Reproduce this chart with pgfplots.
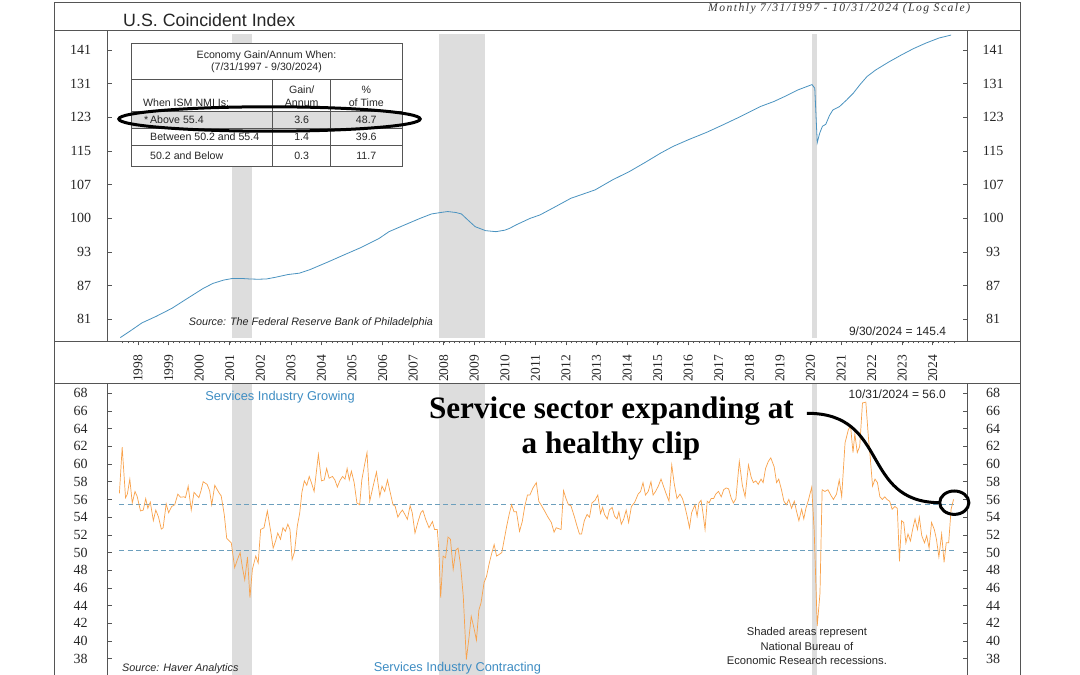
\documentclass[border=0pt]{standalone}
\usepackage{fontspec}
\setmainfont{Liberation Serif}
\setsansfont{Liberation Sans}
\newfontfamily\hdrfont[LetterSpace=13]{Liberation Serif Italic}
\usepackage{pgfplots}
\pgfplotsset{compat=1.18}
\definecolor{recg}{HTML}{DDDDDD}
\definecolor{lineblue}{HTML}{4A93C0}
\definecolor{ismorange}{HTML}{F9A24B}
\definecolor{dashblue}{HTML}{6C9FBD}
\definecolor{txtblue}{HTML}{3E8DC3}
\definecolor{framegray}{HTML}{555555}
\begin{document}
\begin{tikzpicture}[x=1pt,y=1pt]
\path[use as bounding box] (0,0) rectangle (1080,675);
\clip (0,0) rectangle (1080,675);
\fill[white] (0,0) rectangle (1080,675);
% ---------------- top panel ----------------
\begin{axis}[
  at={(107.5pt,334pt)}, anchor=south west,
  scale only axis, width=859.5pt, height=311pt,
  xmin=1997.1, xmax=2025.22,
  ymode=log, ymin=77.46, ymax=146.93,
  ytick={81,86.81,93.04,99.72,106.88,114.55,122.77,131.58,141.02},
  yticklabels={81,87,93,100,107,115,123,131,141},
  yminorticks=false,
  yticklabel style={anchor=east, font=\fontsize{14}{14}\selectfont, text=black!85},
  yticklabel shift=12.8pt,
  xtick={1998.1,1999.1,2000.1,2001.1,2002.1,2003.1,2004.1,2005.1,2006.1,2007.1,2008.1,2009.1,2010.1,2011.1,2012.1,2013.1,2014.1,2015.1,2016.1,2017.1,2018.1,2019.1,2020.1,2021.1,2022.1,2023.1,2024.1},
  xticklabels={1998,1999,2000,2001,2002,2003,2004,2005,2006,2007,2008,2009,2010,2011,2012,2013,2014,2015,2016,2017,2018,2019,2020,2021,2022,2023,2024},
  minor xtick={1997.6,1997.76667,...,2024.85},
  xtick pos=left, xtick align=outside,
  xticklabel style={rotate=90, anchor=east, font=\fontsize{13.5}{13.5}\selectfont, text=black!85},
  xticklabel shift=6pt,
  major tick length=4.5pt, minor tick length=2.5pt,
  every tick/.style={framegray, line width=0.6pt},
  axis line style={framegray, line width=0.8pt},
  /pgf/number format/assume math mode=true,
]
\addplot[fill=recg, draw=none] coordinates {(2001.18,78) (2001.18,145.7) (2001.84,145.7) (2001.84,78)} -- cycle;
\addplot[fill=recg, draw=none] coordinates {(2007.94,78) (2007.94,145.7) (2009.45,145.7) (2009.45,78)} -- cycle;
\addplot[fill=recg, draw=none] coordinates {(2020.16,78) (2020.16,145.7) (2020.31,145.7) (2020.31,78)} -- cycle;
\addplot[lineblue, line width=0.8pt] coordinates {
(1997.52,78.0) (1997.85,79.1) (1998.23,80.4) (1998.7,81.5) (1999.21,82.85) (1999.7,84.5) (2000.23,86.3) (2000.55,87.2) (2000.90,87.8) (2001.2,88.1) (2001.47,88.1) (2001.75,88.0) (2002.03,87.95) (2002.3,88.0) (2002.59,88.3) (2003.0,88.8) (2003.38,89.06) (2003.72,89.7) (2004.3,91.1) (2004.85,92.5) (2005.4,93.9) (2005.97,95.6) (2006.31,97.0) (2006.8,98.3) (2007.33,99.7) (2007.7,100.6) (2008.0,100.9) (2008.23,101.1) (2008.5,100.9) (2008.68,100.6) (2008.9,99.3) (2009.13,98.0) (2009.47,97.2) (2009.81,97.0) (2010.1,97.3) (2010.25,97.65) (2010.48,98.4) (2010.93,99.7) (2011.25,100.4) (2011.75,102.1) (2012.26,103.9) (2013.05,105.7) (2013.62,107.9) (2014.18,109.8) (2014.7,111.9) (2015.19,114.0) (2015.6,115.6) (2016.10,117.2) (2016.7,119.0) (2017.22,120.8) (2017.8,122.9) (2018.46,125.5) (2018.9,126.8) (2019.25,128.1) (2019.7,129.9) (2020.15,131.3) (2020.24,130.3) (2020.32,116.5) (2020.4,118.8) (2020.49,120.5) (2020.60,121.0) (2020.72,123.2) (2020.83,124.6) (2021.05,125.5) (2021.28,127.2) (2021.50,129.0) (2021.72,131.3) (2021.95,133.5) (2022.23,135.3) (2022.65,137.5) (2023.08,139.6) (2023.47,141.4) (2023.87,143.0) (2024.3,144.5) (2024.70,145.4)};
\end{axis}
\begin{axis}[
  at={(107.5pt,334pt)}, anchor=south west,
  scale only axis, width=859.5pt, height=311pt,
  xmin=1997.1, xmax=2025.22,
  ymode=log, ymin=77.46, ymax=146.93,
  hide x axis, axis y line*=right, y axis line style={draw=none},
  ytick={81,86.81,93.04,99.72,106.88,114.55,122.77,131.58,141.02},
  yticklabels={81,87,93,100,107,115,123,131,141},
  yminorticks=false, major tick length=0pt,
  yticklabel style={anchor=center, font=\fontsize{14}{14}\selectfont, text=black!85},
  yticklabel shift=26pt,
]
\end{axis}
% ---------------- bottom panel ----------------
\begin{axis}[
  at={(107.5pt,-20pt)}, anchor=south west,
  scale only axis, width=859.5pt, height=312pt,
  xmin=1997.1, xmax=2025.22,
  ymin=33.90, ymax=69.16,
  ytick={38,40,...,68},
  yticklabel style={anchor=east, font=\fontsize{14}{14}\selectfont, text=black!85},
  yticklabel shift=16.3pt,
  xtick=\empty,
  major tick length=4.5pt,
  every tick/.style={framegray, line width=0.6pt},
  axis line style={framegray, line width=0.8pt},
  /pgf/number format/assume math mode=true,
]
\addplot[fill=recg, draw=none] coordinates {(2001.18,33.9) (2001.18,69.16) (2001.84,69.16) (2001.84,33.9)} -- cycle;
\addplot[fill=recg, draw=none] coordinates {(2007.94,33.9) (2007.94,69.16) (2009.45,69.16) (2009.45,33.9)} -- cycle;
\addplot[fill=recg, draw=none] coordinates {(2020.16,33.9) (2020.16,69.16) (2020.31,69.16) (2020.31,33.9)} -- cycle;
\addplot[dashblue, line width=0.8pt, dash pattern=on 5pt off 3.3pt] coordinates {(1997.49,55.4) (2024.78,55.4)};
\addplot[dashblue, line width=0.8pt, dash pattern=on 5pt off 3.3pt] coordinates {(1997.49,50.2) (2024.78,50.2)};
\addplot[ismorange, line width=0.7pt] coordinates {
(1997.49,56.7) (1997.58,61.9) (1997.69,56.2) (1997.75,56.6) (1997.83,58.3) (1997.91,55.6) (1998.0,56.9) (1998.07,56.35) (1998.18,54.7) (1998.27,54.8) (1998.35,56.1) (1998.42,55.0) (1998.5,55.7) (1998.6,53.6) (1998.68,54.8) (1998.77,54.0) (1998.86,52.65) (1998.92,52.8) (1999.02,55.5) (1999.1,54.5) (1999.2,55.2) (1999.3,55.4) (1999.40,56.6) (1999.49,56.25) (1999.6,56.3) (1999.65,56.2) (1999.74,57.5) (1999.84,54.8) (1999.93,56.8) (2000.01,56.5) (2000.09,56.2) (2000.16,57.0) (2000.23,58.0) (2000.36,57.7) (2000.44,57.0) (2000.51,55.4) (2000.61,57.6) (2000.74,56.8) (2000.82,56.4) (2000.92,54.3) (2001.0,51.6) (2001.15,51.1) (2001.26,48.3) (2001.35,49.2) (2001.44,50.0) (2001.51,48.4) (2001.59,46.9) (2001.68,49.5) (2001.76,44.9) (2001.84,48.1) (2001.95,49.6) (2002.03,48.8) (2002.11,52.6) (2002.22,52.8) (2002.33,54.7) (2002.44,52.4) (2002.52,50.5) (2002.6,51.3) (2002.67,52.2) (2002.76,51.5) (2002.84,52.8) (2002.92,52.4) (2003.0,53.2) (2003.07,52.6) (2003.14,49.2) (2003.22,50.1) (2003.31,53.0) (2003.39,54.5) (2003.46,56.8) (2003.54,58.1) (2003.62,57.6) (2003.70,58.6) (2003.78,57.8) (2003.86,56.9) (2004.0,61.1) (2004.1,58.1) (2004.19,58.2) (2004.27,59.5) (2004.35,58.4) (2004.46,58.6) (2004.54,58.2) (2004.62,57.4) (2004.7,58.1) (2004.79,58.6) (2004.87,58.3) (2004.94,59.5) (2005.01,58.2) (2005.08,59.2) (2005.17,57.9) (2005.26,55.6) (2005.35,55.4) (2005.42,58.2) (2005.51,59.9) (2005.59,61.3) (2005.68,55.8) (2005.79,57.5) (2005.9,59.1) (2006.01,56.35) (2006.08,57.5) (2006.17,56.9) (2006.26,58.2) (2006.33,57.1) (2006.44,55.4) (2006.51,55.25) (2006.6,54.0) (2006.68,54.5) (2006.75,54.8) (2006.83,54.3) (2006.91,53.75) (2007.0,55.3) (2007.07,54.5) (2007.16,52.2) (2007.26,53.5) (2007.35,54.5) (2007.42,54.75) (2007.51,53.75) (2007.62,52.8) (2007.73,53.5) (2007.8,52.6) (2007.89,52.6) (2007.94,50.3) (2008.0,44.9) (2008.08,49.6) (2008.16,49.4) (2008.24,51.75) (2008.32,51.5) (2008.41,48.1) (2008.5,50.3) (2008.57,50.5) (2008.65,48.6) (2008.74,45.05) (2008.84,37.9) (2008.93,40.5) (2009.0,42.8) (2009.1,41.3) (2009.17,40.1) (2009.25,43.5) (2009.32,44.3) (2009.42,46.6) (2009.5,47.3) (2009.59,48.8) (2009.67,49.9) (2009.75,50.9) (2009.83,49.6) (2009.92,49.8) (2010.0,50.0) (2010.07,51.3) (2010.16,52.97) (2010.24,54.3) (2010.32,55.4) (2010.4,54.6) (2010.48,54.6) (2010.58,52.4) (2010.67,53.5) (2010.75,55.2) (2010.84,56.5) (2010.92,56.5) (2011.02,57.3) (2011.13,57.9) (2011.21,55.8) (2011.3,55.3) (2011.4,54.7) (2011.51,54.0) (2011.62,53.4) (2011.71,52.3) (2011.78,52.8) (2011.86,52.7) (2011.94,52.6) (2012.02,57.0) (2012.1,56.1) (2012.18,55.4) (2012.26,55.3) (2012.37,54.1) (2012.46,53.0) (2012.54,52.1) (2012.61,52.1) (2012.7,53.6) (2012.79,54.3) (2012.87,54.0) (2012.95,55.6) (2013.05,55.9) (2013.14,56.5) (2013.23,54.4) (2013.3,55.1) (2013.36,54.3) (2013.45,53.8) (2013.52,54.8) (2013.61,55.1) (2013.69,54.1) (2013.77,53.8) (2013.83,54.6) (2013.91,53.2) (2013.99,53.8) (2014.07,54.8) (2014.15,53.4) (2014.24,55.2) (2014.35,55.7) (2014.46,56.6) (2014.54,56.9) (2014.62,57.9) (2014.7,56.5) (2014.79,56.9) (2014.88,58.0) (2014.95,56.5) (2015.03,56.9) (2015.12,57.5) (2015.21,58.3) (2015.29,57.5) (2015.36,56.8) (2015.47,55.8) (2015.56,59.9) (2015.64,57.8) (2015.73,56.1) (2015.83,56.6) (2015.91,56.1) (2015.99,55.2) (2016.07,54.0) (2016.14,52.8) (2016.21,54.5) (2016.32,55.4) (2016.39,54.1) (2016.45,55.6) (2016.52,55.9) (2016.58,54.5) (2016.65,52.6) (2016.72,55.8) (2016.78,55.6) (2016.85,56.1) (2016.93,56.1) (2017.0,56.6) (2017.09,56.9) (2017.18,56.3) (2017.26,57.1) (2017.34,57.3) (2017.42,57.2) (2017.51,56.1) (2017.58,55.6) (2017.66,56.1) (2017.77,60.3) (2017.87,57.6) (2017.96,56.3) (2018.07,59.9) (2018.16,58.5) (2018.23,57.9) (2018.31,58.1) (2018.39,57.7) (2018.48,58.3) (2018.55,57.9) (2018.63,59.5) (2018.72,60.3) (2018.8,60.7) (2018.91,59.7) (2018.99,57.9) (2019.06,58.3) (2019.15,57.1) (2019.23,55.8) (2019.31,55.4) (2019.39,56.0) (2019.48,55.0) (2019.57,55.8) (2019.64,54.7) (2019.72,53.6) (2019.81,54.9) (2019.88,53.8) (2019.95,55.0) (2020.03,55.9) (2020.14,57.4) (2020.22,52.5) (2020.32,41.7) (2020.41,45.4) (2020.48,57.1) (2020.57,56.9) (2020.67,57.1) (2020.76,56.5) (2020.85,56.0) (2020.95,56.6) (2021.04,58.2) (2021.12,56.3) (2021.23,62.4) (2021.34,63.9) (2021.41,64.3) (2021.49,61.3) (2021.55,63.4) (2021.63,61.3) (2021.71,62.0) (2021.8,66.9) (2021.91,67.0) (2021.99,63.2) (2022.05,60.9) (2022.13,57.5) (2022.21,58.3) (2022.29,57.9) (2022.37,56.3) (2022.45,56.0) (2022.53,56.3) (2022.6,56.0) (2022.69,55.8) (2022.77,54.9) (2022.86,55.2) (2022.94,55.0) (2023.01,49.0) (2023.08,53.6) (2023.15,53.4) (2023.22,51.1) (2023.29,52.1) (2023.37,51.3) (2023.44,52.6) (2023.52,53.8) (2023.6,52.6) (2023.66,54.0) (2023.74,51.9) (2023.83,51.1) (2023.9,51.9) (2023.98,50.5) (2024.06,53.4) (2024.15,52.6) (2024.22,51.5) (2024.3,49.5) (2024.39,52.1) (2024.47,48.9) (2024.54,51.1) (2024.62,51.1) (2024.7,54.9) (2024.78,56.0)};
\end{axis}
\begin{axis}[
  at={(107.5pt,-20pt)}, anchor=south west,
  scale only axis, width=859.5pt, height=312pt,
  xmin=1997.1, xmax=2025.22,
  ymin=33.90, ymax=69.16,
  hide x axis, axis y line*=right, y axis line style={draw=none},
  ytick={38,40,...,68}, major tick length=0pt,
  yticklabel style={anchor=center, font=\fontsize{14}{14}\selectfont, text=black!85},
  yticklabel shift=26pt,
  /pgf/number format/assume math mode=true,
]
\end{axis}
% ---------------- frame ----------------
\draw[framegray, line width=0.8pt] (54,-5) -- (54,673) -- (1020.4,673) -- (1020.4,-5);
\draw[framegray, line width=0.8pt] (54,645) -- (1020.4,645);
\draw[framegray, line width=0.8pt] (54,334) -- (1020.4,334);
\draw[framegray, line width=0.8pt] (54,292) -- (1020.4,292);
% titles
\node[anchor=west, font=\sffamily\fontsize{17.8}{18}\selectfont, text=black!85, inner sep=0] at (123,655) {U.S. Coincident Index};
\node[anchor=east, font=\hdrfont\fontsize{11.6}{12}\selectfont, text=black!80, inner sep=0] at (970.4,666.2) {Monthly 7/31/1997 - 10/31/2024 (Log Scale)};
% table
\begin{scope}[font=\sffamily\fontsize{10.6}{12}\selectfont, text=black!85]
\fill[white] (131.2,508.7) rectangle (401.9,631.3);
\fill[recg] (131.2,547) rectangle (401.9,564);
\draw[framegray, line width=0.8pt] (131.2,508.7) rectangle (401.9,631.3);
\draw[framegray, line width=0.8pt] (131.2,596) -- (401.9,596);
\draw[framegray, line width=0.8pt] (131.2,564) -- (401.9,564);
\draw[framegray, line width=0.8pt] (131.2,547) -- (401.9,547);
\draw[framegray, line width=0.8pt] (131.2,530) -- (401.9,530);
\draw[framegray, line width=0.8pt] (272.7,508.7) -- (272.7,596);
\draw[framegray, line width=0.8pt] (330.6,508.7) -- (330.6,596);
\node at (266.5,619) {Economy Gain/Annum When:};
\node at (266.5,607) {(7/31/1997 - 9/30/2024)};
\node[anchor=west, inner sep=0] at (142.9,572) {When ISM NMI Is:};
\node at (301.7,585) {Gain/};
\node at (301.7,572) {Annum};
\node at (366.3,585) {\%};
\node at (366.3,572) {of Time};
\node[anchor=west, inner sep=0] at (144,555) {*\,Above 55.4};
\node at (301.7,555) {3.6};
\node at (366.3,555) {48.7};
\node[anchor=west, inner sep=0] at (150,538.3) {Between 50.2 and 55.4};
\node at (301.7,538.3) {1.4};
\node at (366.3,538.3) {39.6};
\node[anchor=west, inner sep=0] at (150,519.5) {50.2 and Below};
\node at (301.7,519.5) {0.3};
\node at (366.3,519.5) {11.7};
\end{scope}
\draw[black, line width=3pt] (269.5,556) ellipse [x radius=150.7, y radius=12.2];
% notes top panel
\node[anchor=west, inner sep=0, font=\sffamily\itshape\fontsize{10.8}{12}\selectfont, text=black!85] at (188.7,352.3) {Source: The Federal Reserve Bank of Philadelphia};
\node[anchor=east, inner sep=0, font=\sffamily\fontsize{12}{12}\selectfont, text=black!85] at (946.3,344) {9/30/2024 = 145.4};
% notes bottom panel
\node[inner sep=0, font=\sffamily\fontsize{12.8}{13}\selectfont, text=txtblue] at (280,278.3) {Services Industry Growing};
\node[anchor=base west, inner sep=0, font=\sffamily\fontsize{12.8}{13}\selectfont, text=txtblue] at (373.6,3.5) {Services Industry Contracting};
\node[anchor=base west, inner sep=0, font=\sffamily\itshape\fontsize{10.8}{12}\selectfont, text=black!85] at (122,3) {Source: Haver Analytics};
\node[anchor=east, inner sep=0, font=\sffamily\fontsize{12}{12}\selectfont, text=black!85] at (946,281) {10/31/2024 = 56.0};
\node[inner sep=0, font=\sffamily\fontsize{11.2}{12}\selectfont, text=black!85] at (806.9,42.3) {Shaded areas represent};
\node[inner sep=0, font=\sffamily\fontsize{11.2}{12}\selectfont, text=black!85] at (806.9,28.3) {National Bureau of};
\node[inner sep=0, font=\sffamily\fontsize{11.2}{12}\selectfont, text=black!85] at (806.9,15) {Economic Research recessions.};
\node[anchor=base, inner sep=0, font=\bfseries\fontsize{31.2}{35}\selectfont] at (611.4,256.7) {Service sector expanding at};
\node[anchor=base, inner sep=0, font=\bfseries\fontsize{31.2}{35}\selectfont] at (610.9,221.7) {a healthy clip};
\draw[black, line width=3pt] (806.9,261.7) .. controls (890,262) and (860,173) .. (939.4,172.3);
\draw[black, line width=3pt] (954.3,172.3) ellipse [x radius=14.6, y radius=11.7];
\end{tikzpicture}
\end{document}
